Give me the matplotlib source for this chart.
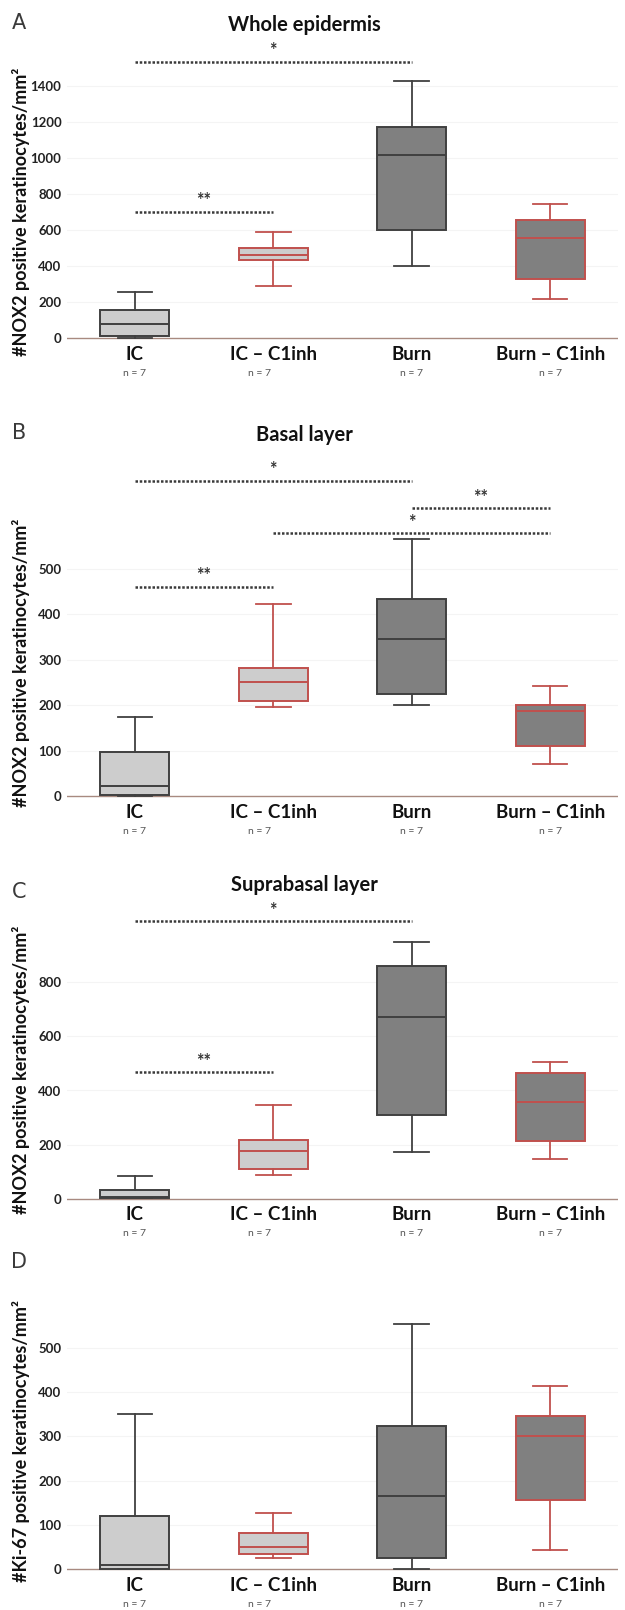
import matplotlib
matplotlib.use("Agg")
import matplotlib.pyplot as plt
from matplotlib.transforms import ScaledTranslation

plt.rcParams['font.family'] = ['Lato', 'DejaVu Sans']

# ---------------- data ----------------
groups = ["IC", "IC \u2013 C1inh", "Burn", "Burn \u2013 C1inh"]
n_labels = ["n = 7", "n = 7", "n = 7", "n = 7"]

# Panel A: Whole epidermis (NOX2)
a_whislo = [0, 287, 398, 218]
a_q1     = [13, 433, 600, 329]
a_med    = [80, 461, 1019, 555]
a_q3     = [157, 500, 1171, 653]
a_whishi = [257, 588, 1428, 745]
a_sig = [(0, 2, 1536, "*"), (0, 1, 701, "**")]

# Panel B: Basal layer (NOX2)
b_whislo = [0, 197, 201, 70]
b_q1     = [3, 210, 225, 111]
b_med    = [21, 251, 346, 188]
b_q3     = [96, 282, 433, 200]
b_whishi = [173, 422, 566, 243]
b_sig = [(0, 2, 694, "*"), (2, 3, 634, "**"), (1, 3, 579, "*"), (0, 1, 461, "**")]

# Panel C: Suprabasal layer (NOX2)
c_whislo = [2, 90, 175, 149]
c_q1     = [5, 112, 309, 212]
c_med    = [8, 177, 671, 358]
c_q3     = [33, 217, 858, 464]
c_whishi = [86, 346, 949, 505]
c_sig = [(0, 2, 1024, "*"), (0, 1, 468, "**")]

# Panel D: Ki-67
d_whislo = [0, 26, 0, 43]
d_q1     = [0, 34, 26, 155]
d_med    = [8, 49, 166, 302]
d_q3     = [121, 81, 324, 347]
d_whishi = [351, 127, 555, 414]
d_sig = []

# ---------------- style ----------------
W, H = 625, 1610
fig = plt.figure(figsize=(W / 100, H / 100), dpi=100)

light = "#cdcdcd"
dark = "#808080"
red = "#c0504d"
dgray = "#404040"
fills = [light, light, dark, dark]
edges = [dgray, red, dgray, red]

def px_rect(y0_px, vref, vref_px, ylo, yhi, x_left=67, x_right=618):
    s = (y0_px - vref_px) / vref
    top = y0_px - yhi * s
    bot = y0_px - ylo * s
    return [x_left / W, 1 - bot / H, (x_right - x_left) / W, (bot - top) / H]

def panel(rect, ylim, ticks, whislo, q1, med, q3, whishi, sig, letter,
          letter_y, title, title_y, ylabel, ylabel_y):
    ax = fig.add_axes(rect)
    for i in range(len(groups)):
        st = dict(whislo=whislo[i], q1=q1[i], med=med[i], q3=q3[i],
                  whishi=whishi[i], fliers=[])
        ax.bxp([st], positions=[i], widths=0.5, patch_artist=True,
               showfliers=False,
               boxprops=dict(facecolor=fills[i], edgecolor=edges[i], linewidth=1.4),
               medianprops=dict(color=edges[i], linewidth=1.4),
               whiskerprops=dict(color=edges[i], linewidth=1.3),
               capprops=dict(color=edges[i], linewidth=1.3),
               capwidths=0.25)
    ax.set_xlim(-0.49, 3.49)
    ax.set_ylim(*ylim)
    ax.axhline(0, color="#a88a80", lw=1.0, zorder=0.5)
    for t in ticks[1:]:
        ax.axhline(t, color="#f4f4f4", lw=0.8, zorder=0.1)
    for sp in ax.spines.values():
        sp.set_visible(False)
    ax.set_yticks(ticks)
    ax.set_yticklabels([str(t) for t in ticks], fontsize=9.5, fontweight="bold",
                       color="#222222")
    ax.tick_params(axis="y", length=0, pad=4)
    ax.set_xticks([])
    # category labels
    for i, g in enumerate(groups):
        tr = ax.transData + ScaledTranslation(0, -16 / 100, fig.dpi_scale_trans)
        ax.text(i, 0, g, transform=tr, ha="center", va="center", fontsize=13.5,
                fontweight="bold", color="#111111", clip_on=False)
        dx = -0.1 if i == 1 else 0.0
        tr2 = ax.transData + ScaledTranslation(0, -35 / 100, fig.dpi_scale_trans)
        ax.text(i + dx, 0, n_labels[i], transform=tr2, ha="center", va="center",
                fontsize=7.5, color="#555555", clip_on=False)
    # significance bars
    for (x1, x2, y, txt) in sig:
        ax.plot([x1, x2], [y, y], linestyle=(0, (1, 0.7)), color="#3a3a3a",
                lw=1.8, clip_on=False, solid_capstyle="butt")
        xm = (x1 + x2) / 2 if not (x1 == 1 and x2 == 3) else 2
        trs = ax.transData + ScaledTranslation(0, 11 / 100, fig.dpi_scale_trans)
        ax.text(xm, y, txt, transform=trs, ha="center", va="center",
                fontsize=13, fontweight="bold", color="#333333", clip_on=False)
    fig.text(19 / W, 1 - letter_y / H, letter, ha="center", va="center",
             fontsize=15, color="#3a3a3a", fontweight="normal",
             family=["DejaVu Sans"])
    if title:
        fig.text(304 / W, 1 - title_y / H, title, ha="center", va="center",
                 fontsize=14.5, fontweight="bold", color="#111111")
    fig.text(21 / W, 1 - ylabel_y / H, ylabel, ha="center", va="center",
             rotation=90, fontsize=13, fontweight="bold", color="#111111")
    return ax

nox = "#NOX2 positive keratinocytes/mm\u00b2"
ki = "#Ki-67 positive keratinocytes/mm\u00b2"

panel(px_rect(338, 1400, 86, -15, 1650), (-15, 1650), [0, 200, 400, 600, 800, 1000, 1200, 1400],
      a_whislo, a_q1, a_med, a_q3, a_whishi, a_sig, "A", 23, "Whole epidermis", 25, nox, 212)
panel(px_rect(796, 500, 569, -8, 760), (-8, 760), [0, 100, 200, 300, 400, 500],
      b_whislo, b_q1, b_med, b_q3, b_whishi, b_sig, "B", 433, "Basal layer", 435, nox, 663)
panel(px_rect(1199, 800, 982, -15, 1110), (-15, 1110), [0, 200, 400, 600, 800],
      c_whislo, c_q1, c_med, c_q3, c_whishi, c_sig, "C", 892, "Suprabasal layer", 885, nox, 1070)
panel(px_rect(1569, 500, 1348, -8, 640), (-8, 640), [0, 100, 200, 300, 400, 500],
      d_whislo, d_q1, d_med, d_q3, d_whishi, d_sig, "D", 1262, None, 0, ki, 1441)

fig.savefig("out.png", dpi=100, facecolor="white")
